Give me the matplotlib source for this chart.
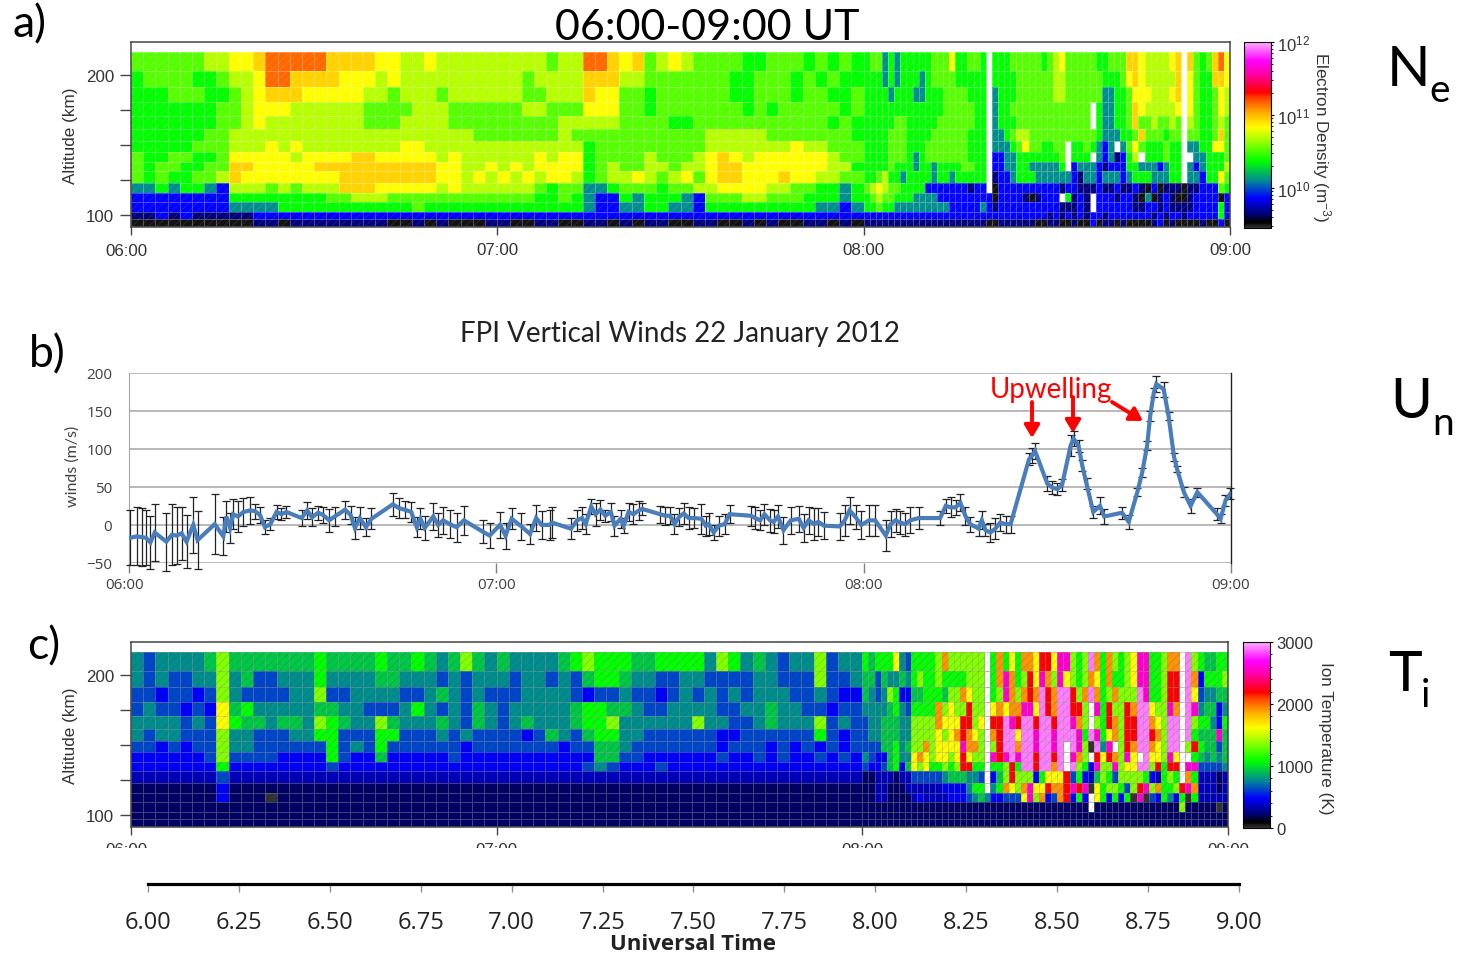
import matplotlib
matplotlib.use('Agg')
import matplotlib.pyplot as plt
import numpy as np
from matplotlib.colors import LinearSegmentedColormap, LogNorm, Normalize
from matplotlib.patches import Rectangle

W, H = 1461, 954

plt.rcParams['font.family'] = ['Liberation Sans', 'DejaVu Sans']
plt.rcParams['mathtext.default'] = 'regular'
plt.rcParams['hatch.linewidth'] = 0.5

# gate edges (km), top to bottom
alt_edges = [216.4, 202.9, 191.4, 180.7, 170.7, 161.4, 152.9, 145.0, 137.9,
             131.4, 122.9, 115.7, 109.3, 102.1, 97.1, 92.1]

# cells: 2 min up to 08:00, 1 min after it
time_edges = np.concatenate([np.linspace(6, 8, 61), np.linspace(8, 9, 61)[1:]])

# log10 electron density per colour class
ne_levels = {'0': 9.50, '1': 9.65, '2': 9.86, '3': 10.11, '4': 10.37, '5': 10.52,
             '6': 10.69, '7': 10.83, '8': 10.94, '9': 11.16}
# ion temperature (K) per colour class
ti_levels = {'k': 0, '0': 210, '1': 360, '2': 480, '3': 630, '4': 780, '5': 930,
             '6': 1080, '7': 1350, '8': 1620, '9': 1920, 'r': 2190, 'm': 2580, 'p': 2910}

ne_rows = [
    "5555556677" "8999998888" "7766766666" "6666566998" "7856765555" "4455545454" "4553434444" "4555744554" ".444555554" "5675555544" "5558876666" "78.8545897",
    "4555544566" "7998888777" "6766666666" "6656666888" "6655555554" "4555454544" "4443434443" "4555544444" ".444455555" "5665555554" "4457876666" "68.7544887",
    "4445554456" "7888777776" "6566656666" "6655666877" "5545555554" "4555455445" "4444344433" "4445555444" ".344455555" "5665555553" "3445777666" "78.7544576",
    "4444444556" "7776666665" "5556665555" "5566555777" "5545555555" "4545555545" "4444444444" "4445555544" ".344555555" "5555555.43" "3445876666" "67.7544576",
    "4444444556" "7666666665" "5566665555" "5555566666" "5555445555" "5555555454" "4444455444" "4455555544" ".344455555" "5555555.43" "3445855655" "65.6544565",
    "4444445566" "6666666666" "6666666655" "5555565555" "5555555666" "6655555554" "4444555444" "4555555444" ".334566555" "5555555543" "3344585554" "55.5544585",
    "4444455566" "6767666666" "6677666666" "6666666455" "5555555666" "6666766555" "4444555444" "5555555444" ".333457554" "455.445432" "3.35754445" "44.3344775",
    "5445544577" "7776777788" "7777767666" "6667677455" "5565556787" "6777777655" "4444555434" "5555555444" ".223344444" "445.444.32" "31246.4445" "44..334445",
    "5455445588" "7777788888" "8888877667" "6767777456" "5566566788" "7777777664" "4444544434" "4344445544" ".223344333" "334.233321" "2224433323" "44.3234446",
    "5454455687" "7777777888" "8888877676" "7676776456" "6765675788" "7778776655" "4456443444" "4344344444" ".122344433" "3333213323" "3323444333" "44.3324475",
    "3343443266" "6565666888" "7777767666" "6665455334" "5554556677" "7766554434" "5676554444" "2222222122" ".022222222" "2212211121" "1211210201" "1101122254",
    "2222222244" "4444445566" "6555555555" "5554454322" "4344432555" "6655544434" "4565544433" "3322222222" "2022221012" "22.4121.22" "2122103012" "1001222202",
    "2222222233" "3344444444" "4445444444" "4444444322" "3344332444" "4444443323" "4454433333" "3333222223" "2122222222" "2211121.22" "2222112212" "1111222242",
    "1121211111" "2222222222" "2222222222" "2222222222" "2222222222" "2222222222" "2222222222" "2222222222" "2222222222" "1212121221" "2222222121" "2212222242",
    "0000000000" "1101111111" "1001010001" "1001100110" "1011001100" "1010011010" "1111111111" "1111111111" "0011111100" "1100100201" "1010000120" "1000010020",
]

ti_rows = [
    "4344445755" "5555565555" "6556545754" "5444456766" "6556666476" "4543447344" "6566684366" "6679777777" ".69686998r" "r8mm767p96" "97678mm667" "99.p765566",
    "4343344745" "3344464444" "5544434344" "4344343566" "5443344333" "3443337334" "5535445467" "6676666777" ".69m967r8m" "97m8767986" "96678mm667" "rr.p926667",
    "3323323743" "3334473344" "4433454343" "3344443233" "4332343434" "3444334322" "5434762255" "6665779877" ".67m979r9p" "r9ppr79p96" "79777pm667" "rr.p834455",
    "3433232856" "4444455443" "3346434354" "3444445665" "5433444433" "4454433233" "4444564366" "6697877r77" ".89899mm8p" "r9pprr7.m6" "r77r9pp877" "m9.pm45524",
    "4444343865" "5455476544" "7544454354" "3454445667" "4444447443" "3454447343" "3445554477" "779888rr78" ".rrpmrpprp" "prppm97.76" "r97rrpp987" "pp.p766426",
    "4344333744" "3334466333" "6633343433" "3323543566" "4433333322" "3333336323" "3445554477" "778789r987" ".9rpp8ppmp" "pmpppm6pm6" "897rrppr97" "pp.p6555m5",
    "3323233744" "3333336343" "6333333233" "3333323355" "4333333323" "3323232323" "3335564577" "978888m997" ".7rpp9ppmp" "pmp.pm7kp4" "m.7r9pp987" "pp.7r65535",
    "2222223733" "3322226322" "5222223222" "2222222255" "3322222232" "2323223232" "4322564489" "878878r877" ".mrmpmpprp" "prp.m97.r8" "r97m8.p887" "m8..654545",
    "2222222622" "2222223222" "2222222222" "2222222343" "2223222222" "2222222222" "3223562587" "866767rr66" ".667r6pprp" "p9p.p762m7" "7m788pp7r6" "rr.mm33334",
    "1111111311" "1111111111" "1111111111" "1111111111" "1111111111" "1111111111" "0011101133" "3334555443" ".257r77726" "888r362157" "6377776216" "76.9611101",
    "0000000200" "0000000000" "0000000000" "0000000000" "0000000000" "0000000000" "0011000111" "1112222466" ".469879m88" "r99rmrmk86" "77637rm796" "67rm911101",
    "0000000200" "0k00000000" "0000000000" "0000000000" "0000000000" "0000000000" "0011000012" "1111222345" "4223338m79" "239r262.86" "2626kmk326" "426k611111",
    "0000000000" "0000000000" "0000000000" "0000000000" "0000000000" "0000000000" "0000000000" "0000000000" "0000000000" "0000000.00" "0000000000" "00700000k0",
    "0" * 120,
    "0" * 120,
]

# FPI vertical wind: minutes after 06:00, m/s, error half height
wind_min = [0.2, 1.25, 2.1, 2.8, 3.5, 4.2, 6.1, 7.0, 7.8, 8.6, 9.4, 10.5, 11.2, 14.0, 15.4, 15.9, 16.5, 17.0,
            17.8, 18.7, 19.8, 20.6, 21.4, 22.2, 23.1, 24.1, 24.9, 25.7, 28.2, 29.1, 29.9, 30.9, 31.7, 32.7,
            33.6, 35.3, 36.2, 36.9, 37.7, 38.7, 39.6, 43.1, 44.1, 45.0, 46.1, 47.0, 47.6, 48.3, 49.7, 50.5,
            51.3, 52.4, 53.5, 54.7, 57.8, 58.9, 60.6, 61.5, 62.5, 64.1, 65.5, 66.5, 67.4, 68.7, 69.1, 72.2,
            73.2, 74.0, 74.6, 75.5, 76.2, 77.0, 77.8, 78.7, 79.3, 80.3, 80.8, 81.6, 82.4, 83.3, 83.8, 86.8,
            87.6, 88.4, 89.1, 89.8, 90.6, 91.4, 92.3, 93.5, 94.2, 94.7, 95.5, 96.3, 97.3, 98.1, 101.6, 102.3,
            103.1, 103.8, 104.7, 105.3, 106.0, 106.9, 108.1, 109.4, 110.2, 111.0, 111.9, 112.6, 113.5, 116.1,
            116.9, 117.7, 118.7, 119.6, 120.9, 121.9, 123.6, 124.4, 125.2, 126.0, 126.8, 127.6, 129.0, 132.5,
            133.4, 134.2, 135.0, 135.8, 136.6, 137.4, 138.8, 139.3, 139.9, 140.7, 141.5, 142.3, 143.2, 144.0,
            147.0, 147.5, 148.0, 150.0, 150.8, 151.6, 152.4, 153.8, 154.3, 155.1, 155.7, 156.4, 157.5, 158.6,
            159.3, 162.2, 163.3, 164.7, 165.5, 166.3, 166.8, 167.4, 167.8, 169.0, 169.8, 170.7, 171.2, 172.3,
            173.4, 174.5, 177.7, 178.3, 179.1, 179.9]
wind_val = [-17, -15, -16, -17, -23, -10, -22, -13, -14, -11, -22, 0, -20, 1, -15, 11, -4, 14,
            11, 17, 19, 18, 13, -3, 1, 17, 14, 17, 9, 19, 10, 16, 13, 6,
            11, 20, 13, -4, 9, -3, 8, 27, 22, 20, 17, -3, 8, -4, 11, 0,
            6, 1, -3, 6, -9, -14, 0, -14, 8, -2, -12, 9, 0, 0, 3, -5,
            6, 9, 1, 24, 14, 20, 12, 17, -1, 8, -1, 17, 14, 19, 21, 14,
            12, 12, 1, 10, 15, 9, 9, 8, -1, 1, -10, -1, 1, 14, 12, 9,
            6, 14, 6, 4, 11, -7, 6, 8, -4, 6, 1, 4, -1, -2,
            6, 19, 10, 0, 6, 6, -14, 1, 6, 3, 1, 6, 9, 9,
            25, 23, 23, 29, 12, 1, -5, 6, -7, -10, -5, 3, 1, 1,
            86, 91, 97, 54, 49, 47, 52, 104, 113, 104, 78, 54, 17, 25,
            11, 16, 4, 43, 69, 104, 143, 174, 185, 178, 143, 89, 73, 43,
            25, 43, 14, 8, 32, 41]
wind_err = [36, 38, 38, 36, 35, 38, 38, 40, 37, 35, 35, 37, 38, 39, 25, 20, 20, 20,
            20, 18, 18, 10, 10, 9, 8, 9, 8, 8, 10, 11, 12, 9, 10, 15,
            13, 12, 12, 15, 14, 12, 14, 15, 13, 11, 13, 13, 14, 16, 18, 16,
            18, 18, 19, 19, 15, 16, 17, 17, 14, 18, 13, 17, 18, 20, 20, 14,
            14, 15, 13, 10, 15, 13, 8, 12, 13, 12, 10, 12, 13, 13, 8, 11,
            12, 11, 13, 12, 14, 14, 13, 20, 13, 14, 10, 13, 13, 12, 13, 14,
            13, 14, 15, 15, 15, 18, 18, 17, 18, 18, 21, 18, 18, 18,
            20, 18, 16, 18, 20, 20, 20, 17, 15, 15, 15, 17, 14, 9,
            9, 13, 10, 11, 12, 10, 10, 12, 8, 12, 14, 11, 11, 11,
            8, 10, 10, 10, 8, 8, 8, 14, 10, 8, 7, 7, 8, 11,
            10, 8, 9, 5, 6, 6, 7, 6, 10, 10, 5, 5, 4, 7,
            9, 6, 8, 6, 7, 7]

clock_labels = ['', '07:00', '08:00', '09:00']
bottom_ticks = [6.00, 6.25, 6.50, 6.75, 7.00, 7.25, 7.50, 7.75, 8.00, 8.25, 8.50, 8.75, 9.00]
alt_ticks = [100, 125, 150, 175, 200]

rainbow = LinearSegmentedColormap.from_list('rainbow_isr', [
    (0.00, (0.20, 0.20, 0.20)), (0.03, (0, 0, 0)), (0.07, (0, 0, 0.43)), (0.16, (0, 0, 1)),
    (0.25, (0, 0.52, 0.60)), (0.36, (0, 1, 0)), (0.48, (0.68, 1, 0)), (0.54, (1, 1, 0)),
    (0.62, (1, 0.68, 0)), (0.70, (1, 0.25, 0)), (0.73, (1, 0, 0)), (0.82, (1, 0, 0.6)),
    (0.90, (1, 0, 1)), (1.00, (1, 0.68, 1))])


def px_axes(x0, y0, x1, y1):
    return fig.add_axes([x0 / W, 1 - y1 / H, (x1 - x0) / W, (y1 - y0) / H])


def decode(rows, levels):
    z = []
    for r in rows:
        z.append([np.nan if c == '.' else levels[c] for c in r])
    return np.ma.masked_invalid(np.array(z, dtype=float))


def clock_ticks(ax):
    ax.set_xlim(6, 9)
    ax.set_xticks([6, 7, 8, 9])
    ax.set_xticklabels(clock_labels)


def radar_panel(box, z, norm, grid, hatch):
    ax = px_axes(*box)
    mesh = ax.pcolormesh(time_edges, alt_edges, z, cmap=rainbow, norm=norm,
                         edgecolors=grid, linewidth=0.5, antialiased=False)
    ax.add_patch(Rectangle((6, alt_edges[-1]), 3, alt_edges[0] - alt_edges[-1], fill=False,
                           hatch='////', edgecolor=hatch, lw=0))
    ax.set_ylim(100 - 12 / 1.4, 100 + 173 / 1.4)
    clock_ticks(ax)
    ax.set_yticks(alt_ticks)
    ax.set_yticklabels(['100', '', '', '', '200'])
    ax.tick_params(axis='both', length=8, width=1, color='#444444', labelcolor='#333333', labelsize=12.2, pad=4)
    ax.tick_params(axis='x', pad=5, length=6)
    for s in ax.spines.values():
        s.set_color('#444444')
        s.set_linewidth(1.1)
    ax.set_ylabel('Altitude (km)', fontsize=12.3, color='#333333')
    ax.yaxis.set_label_coords((78 - box[0]) / (box[2] - box[0]), 0.5)
    return mesh


fig = plt.figure(figsize=(W / 100, H / 100), dpi=100)

# panel a
ne_z = np.ma.power(10.0, decode(ne_rows, ne_levels))
mesh_a = radar_panel((131, 43, 1230, 228), ne_z, LogNorm(10 ** 9.45, 10 ** 12),
                     (1, 1, 1, 0.28), (1, 1, 1, 0.13))
cax_a = px_axes(1244, 43, 1271, 229)
cb_a = fig.colorbar(mesh_a, cax=cax_a)
cb_a.set_ticks([1e10, 1e11, 1e12])
cb_a.ax.tick_params(which='major', length=2.5, width=0.8, labelsize=12, labelcolor='#333333', pad=2)
cb_a.ax.tick_params(which='minor', length=1.5, width=0.6)

# panel b
ax_b = px_axes(129, 373.5, 1231, 564)
wind_hour = 6 + np.array(wind_min) / 60
eb = ax_b.errorbar(wind_hour, wind_val, yerr=wind_err, fmt='none', ecolor='#222222', elinewidth=0.9,
                   capsize=3, capthick=0.9, zorder=3)
for part in list(eb[1]) + list(eb[2]):
    part.set_clip_on(False)
ax_b.plot(wind_hour, wind_val, color='#4a7ebb', lw=3, solid_joinstyle='miter', zorder=4)
ax_b.set_ylim(-50, 200)
clock_ticks(ax_b)
ax_b.set_yticks([-50, 0, 50, 100, 150, 200])
ax_b.yaxis.grid(True, color='#a6a6a6', lw=1.1)
ax_b.set_axisbelow(True)
ax_b.tick_params(axis='y', length=0, labelsize=11, labelcolor='#404040', pad=12)
ax_b.tick_params(axis='x', length=7, width=1, color='#808080', labelsize=11, labelcolor='#404040', pad=3)
for lab in ax_b.get_xticklabels() + ax_b.get_yticklabels():
    lab.set_fontfamily('Open Sans')
ax_b.spines['top'].set_visible(False)
ax_b.spines['bottom'].set_visible(False)
ax_b.spines['left'].set_color('#a6a6a6')
ax_b.spines['right'].set_color('#222222')
ax_b.spines['right'].set_linewidth(1)

# panel c
ti_z = decode(ti_rows, ti_levels)
mesh_c = radar_panel((131, 643, 1228, 828), ti_z, Normalize(0, 3000),
                     (0.62, 0.62, 0.62, 0.42), (0.12, 0.12, 0.12, 0.18))
cax_c = px_axes(1243, 643, 1270, 829)
cb_c = fig.colorbar(mesh_c, cax=cax_c)
cb_c.set_ticks([0, 1000, 2000, 3000])
cb_c.ax.minorticks_on()
cb_c.ax.tick_params(which='major', length=2.5, width=0.8, labelsize=12, labelcolor='#333333', pad=2)
cb_c.ax.tick_params(which='minor', length=1.5, width=0.6)

# shared hour axis at the bottom
ax_t = px_axes(148, 870, 1239, 885)
ax_t.set_xlim(6, 9)
ax_t.set_ylim(0, 1)
ax_t.set_xticks(bottom_ticks)
ax_t.set_xticklabels(['%.2f' % t for t in bottom_ticks])
ax_t.set_yticks([])
for name in ['top', 'left', 'right']:
    ax_t.spines[name].set_visible(False)
ax_t.spines['bottom'].set_linewidth(2.3)
ax_t.tick_params(axis='x', length=6, width=1, color='#909090', labelsize=17, labelcolor='#222222', pad=12.5)
for lab in ax_t.get_xticklabels():
    lab.set_fontfamily('Open Sans')

# texts and arrows placed in picture pixels
ov = fig.add_axes([0, 0, 1, 1])
ov.set_xlim(0, W)
ov.set_ylim(H, 0)
ov.axis('off')
ov.patch.set_alpha(0)
ov.add_patch(Rectangle((100, 849), 1200, 18, fc='white', lw=0, zorder=5))


def note(x, y, s, size, family='Lato', color='black', ha='center', **kw):
    ov.text(x, y, s, fontsize=size, family=family, color=color, ha=ha, va='center', **kw)


note(707, 28, '06:00-09:00 UT', 31)
note(680, 334, 'FPI Vertical Winds 22 January 2012', 20, color='#222222')
note(30, 25, 'a)', 32)
note(47, 355, 'b)', 32)
note(44, 647, 'c)', 32)
note(1409, 70, 'N', 41)
note(1440, 91, 'e', 28)
note(1411, 403, 'U', 41)
note(1443, 424, 'n', 28)
note(1405, 676, 'T', 41)
note(1425, 696, 'i', 28)
note(693, 945, 'Universal Time', 16, family='Open Sans', color='#222222', fontweight='bold')
note(73, 466, 'winds (m/s)', 11.5, color='#404040', rotation=90)
note(1051, 390, 'Upwelling', 20, color='#ff0000')
note(1321, 137, 'Electron Density (m$^{-3}$)', 12.3, family='Liberation Sans', color='#333333', rotation=-90)
note(1325, 738, 'Ion Temperature (K)', 12.3, family='Liberation Sans', color='#333333', rotation=-90)
note(126, 251, '06:00', 12.2, family='Liberation Sans', color='#333333')
note(125, 586, '06:00', 11, family='Open Sans', color='#404040')
note(126, 851, '06:00', 12.2, family='Liberation Sans', color='#333333')

for start, end in [((1032, 403), (1032, 439)), ((1073, 398), (1073, 434)), ((1112, 403), (1143, 422))]:
    ov.annotate('', xy=end, xytext=start,
                arrowprops=dict(arrowstyle='-|>,head_width=0.45,head_length=0.75', color='#ff0000', lw=2.8,
                                shrinkA=0, shrinkB=0))

fig.savefig('out.png', dpi=100)
